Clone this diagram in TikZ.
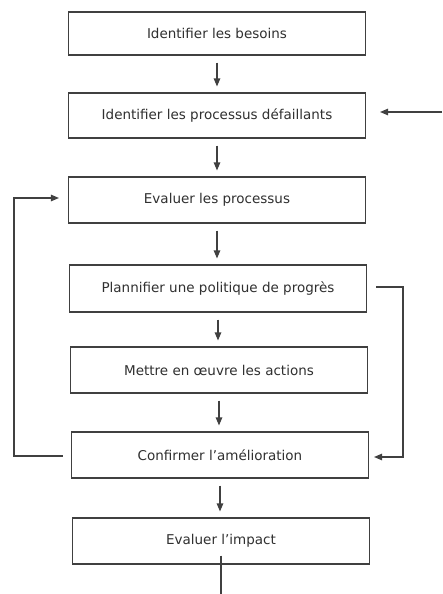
\documentclass[tikz,border=0pt]{standalone}
\usepackage{fontspec}
\setmainfont{DejaVu Sans}
\usetikzlibrary{arrows.meta}
\definecolor{ink}{HTML}{303030}
\definecolor{rule}{HTML}{404040}
\begin{document}
\begin{tikzpicture}[x=1pt,y=-1pt,
  stepbox/.style={draw=rule, line width=1.1pt, minimum width=297pt, minimum height=45pt,
    inner sep=0pt, text=ink, font=\fontsize{13.5}{16}\selectfont},
  flow/.style={draw=rule, line width=1.1pt, -{Triangle[length=8pt,width=6.5pt]}},
  plain/.style={draw=rule, line width=1.1pt}]
  \useasboundingbox[fill=white] (0,0) rectangle (442,594);

  % main chain of steps
  \node[stepbox, minimum height=43pt] (b1) at (217,33.5) {Identifier les besoins};
  \node[stepbox] (b2) at (217,115.5) {Identifier les processus défaillants};
  \node[stepbox, minimum height=46pt] (b3) at (217,200) {Evaluer les processus};
  \node[stepbox, minimum height=47pt] (b4) at (218,288.5) {Plannifier une politique de progrès};
  \node[stepbox, minimum height=46pt] (b5) at (219,370) {Mettre en œuvre les actions};
  \node[stepbox, minimum height=46pt] (b6) at (220,455) {Confirmer l’amélioration};
  \node[stepbox, minimum height=46pt] (b7) at (221,541) {Evaluer l’impact};

  % vertical arrows between steps
  \foreach \a/\b in {b1/b2,b2/b3,b3/b4,b4/b5,b5/b6,b6/b7}
    \draw[flow, shorten <=7pt, shorten >=6pt] (\a.south) -- (\a.south |- \b.north);

  % incoming arrow from the right
  \coordinate (inR) at (442,112);
  \draw[flow, shorten >=14pt] (inR) -- (inR -| b2.east);

  % feedback loop on the left
  \coordinate (L1) at (14,456);
  \coordinate (L2) at (14,198);
  \draw[flow, shorten >=9pt] ([xshift=-8pt]b6.west |- L1) -- (L1) -- (L2) -- (L2 -| b3.west);

  % bypass on the right
  \coordinate (R1) at (403,287);
  \coordinate (R2) at (403,457);
  \draw[flow, shorten >=5pt] ([xshift=9pt]b4.east |- R1) -- (R1) -- (R2) -- (R2 -| b6.east);

  % outgoing line at the bottom
  \coordinate (out) at (217,594);
  \draw[plain] ([yshift=9pt]b7.south) -- (b7.south |- out);
\end{tikzpicture}
\end{document}
